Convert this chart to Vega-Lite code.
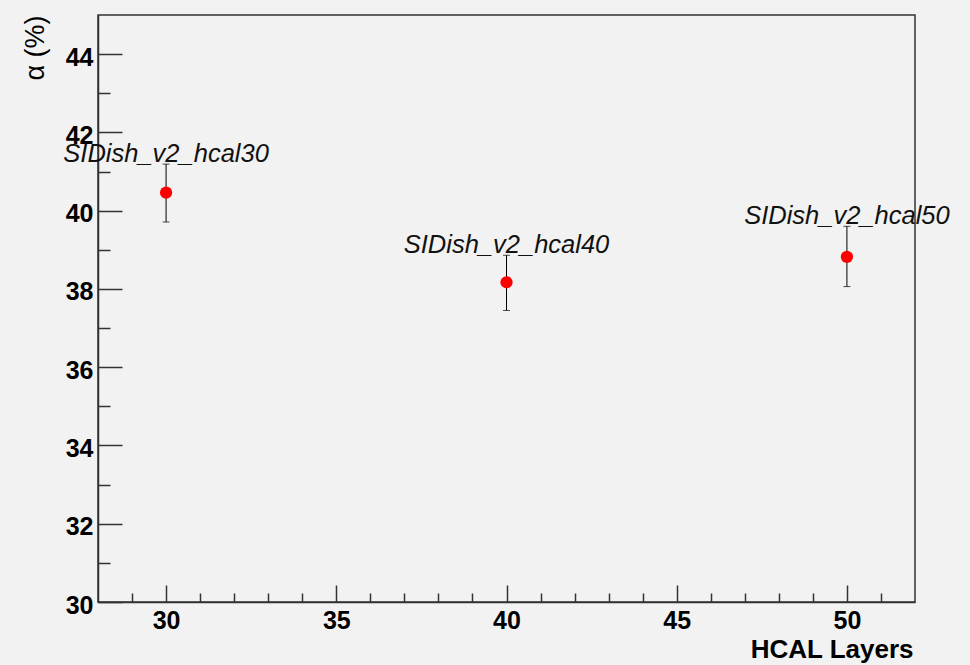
{
  "$schema": "https://vega.github.io/schema/vega-lite/v6.json",
  "width": 817,
  "height": 587,
  "autosize": "none",
  "padding": {"left": 98, "top": 15, "right": 55, "bottom": 63},
  "background": "#f2f2f2",
  "config": {
    "view": {"stroke": "#333", "strokeWidth": 1.5, "fill": "#f2f2f2"},
    "font": "Liberation Sans",
    "axis": {
      "domainColor": "#333",
      "domainWidth": 1.5,
      "tickColor": "#333",
      "tickWidth": 1.5,
      "grid": false,
      "labelFont": "Liberation Sans",
      "labelFontWeight": "bold",
      "labelFontSize": 25,
      "labelColor": "#000",
      "titleColor": "#000",
      "titleFont": "Liberation Sans"
    }
  },
  "data": {
    "values": [
      {"layers": 30, "alpha": 40.46, "lo": 39.71, "hi": 41.19, "label": "SIDish_v2_hcal30"},
      {"layers": 40, "alpha": 38.17, "lo": 37.45, "hi": 38.86, "label": "SIDish_v2_hcal40"},
      {"layers": 50, "alpha": 38.82, "lo": 38.06, "hi": 39.60, "label": "SIDish_v2_hcal50"}
    ]
  },
  "layer": [
    {
      "mark": {"type": "rule", "color": "#000", "strokeWidth": 1},
      "encoding": {
        "x": {
          "field": "layers",
          "type": "quantitative",
          "scale": {"domain": [28, 52], "nice": false, "zero": false},
          "axis": {
            "title": "HCAL Layers",
            "titleFontSize": 26,
            "titleFontWeight": "bold",
            "titleAlign": "right",
            "titleBaseline": "alphabetic",
            "titleX": 815,
            "titleY": 55,
            "tickCount": 100,
            "values": [29, 30, 31, 32, 33, 34, 35, 36, 37, 38, 39, 40, 41, 42, 43, 44, 45, 46, 47, 48, 49, 50, 51],
            "format": "d",
            "labelExpr": "datum.value % 5 === 0 ? datum.label : ''",
            "tickSize": {"condition": {"test": "datum.value % 5 === 0", "value": -17}, "value": -9},
            "labelPadding": 23,
            "labelFlush": false,
            "labelOverlap": false
          }
        },
        "y": {
          "field": "lo",
          "type": "quantitative",
          "scale": {"domain": [30, 45], "nice": false, "zero": false},
          "axis": {
            "title": "α (%)",
            "titleFontSize": 27,
            "titleFontWeight": "normal",
            "titleAngle": -90,
            "titleAlign": "right",
            "titleBaseline": "alphabetic",
            "titleX": -55,
            "titleY": 0,
            "tickCount": 100,
            "values": [30, 30.5, 31, 31.5, 32, 32.5, 33, 33.5, 34, 34.5, 35, 35.5, 36, 36.5, 37, 37.5, 38, 38.5, 39, 39.5, 40, 40.5, 41, 41.5, 42, 42.5, 43, 43.5, 44, 44.5],
            "format": "d",
            "labelExpr": "datum.value % 2 === 0 ? datum.label : ''",
            "tickSize": {"condition": {"test": "datum.value % 2 === 0", "value": -24}, "value": -12},
            "labelPadding": 29,
            "labelOffset": 3,
            "labelFlush": false,
            "labelOverlap": false
          }
        },
        "y2": {"field": "hi"}
      }
    },
    {
      "mark": {"type": "tick", "color": "#000", "orient": "horizontal", "size": 7, "thickness": 1},
      "encoding": {
        "x": {"field": "layers", "type": "quantitative"},
        "y": {"field": "lo", "type": "quantitative"}
      }
    },
    {
      "mark": {"type": "tick", "color": "#000", "orient": "horizontal", "size": 7, "thickness": 1},
      "encoding": {
        "x": {"field": "layers", "type": "quantitative"},
        "y": {"field": "hi", "type": "quantitative"}
      }
    },
    {
      "mark": {"type": "point", "filled": true, "shape": "circle", "color": "#ff0000", "opacity": 1, "size": 150},
      "encoding": {
        "x": {"field": "layers", "type": "quantitative"},
        "y": {"field": "alpha", "type": "quantitative"}
      }
    },
    {
      "mark": {"type": "text", "fontSize": 25.5, "fontStyle": "italic", "font": "Liberation Sans", "color": "#111", "align": "center", "baseline": "alphabetic", "dy": -2},
      "encoding": {
        "x": {"field": "layers", "type": "quantitative"},
        "y": {"field": "hi", "type": "quantitative"},
        "text": {"field": "label"}
      }
    }
  ]
}
